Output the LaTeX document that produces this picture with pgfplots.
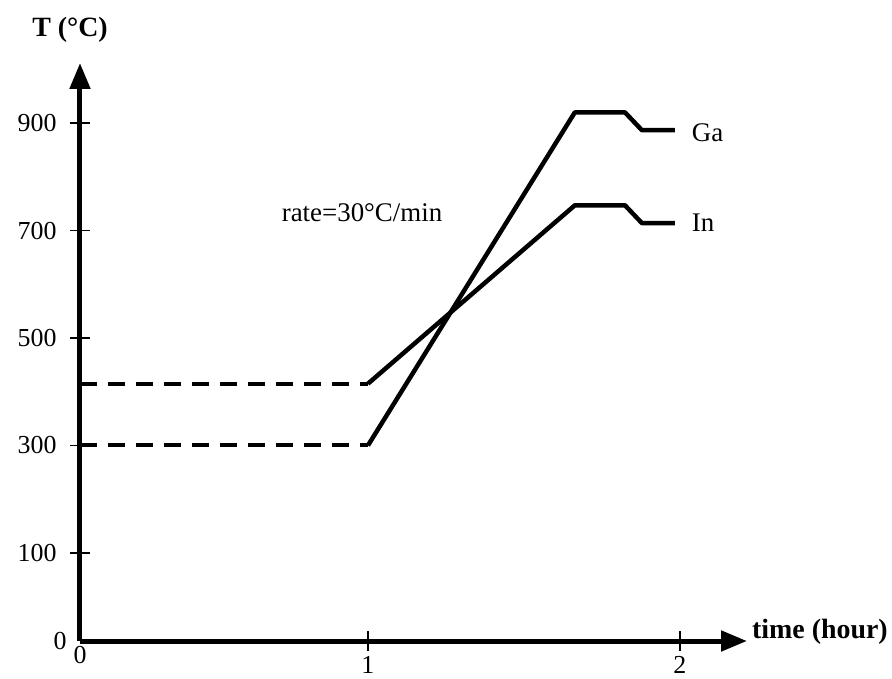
\documentclass[border=0pt]{standalone}
\usepackage{fontspec}
\setmainfont{Liberation Serif}
\usepackage{pgfplots}
\pgfplotsset{compat=1.18}
\usetikzlibrary{arrows.meta}
\begin{document}
\begin{tikzpicture}
\begin{axis}[
  scale only axis, width=667bp, height=578bp,
  xmin=0.077, xmax=2.215, ymin=-64, ymax=1012,
  axis lines=left,
  axis line style={line width=5bp, -{Triangle[length=26bp,width=20bp]}},
  xtick={1,2}, ytick={100,300,500,700,900},
  extra x ticks={0.077}, extra x tick labels={0},
  extra y ticks={-64}, extra y tick labels={0},
  extra tick style={major tick length=0pt},
  major tick length=20bp, tick align=center,
  tick style={line width=1.6bp, black},
  tick label style={font=\fontsize{26}{30}\selectfont},
  /pgf/number format/assume math mode=true,
  xticklabel style={inner sep=2bp, yshift=-3bp},
  yticklabel style={xshift=-10bp},
  clip=false,
]
\coordinate (O) at (rel axis cs:0,0);
\addplot[black, line width=4bp, dash pattern=on 17bp off 11bp] coordinates {(0.077,300) (1,300)};
\addplot[black, line width=4bp, dash pattern=on 17bp off 11bp] coordinates {(0.077,415) (1,415)};
\addplot[black, line width=4.5bp, line join=round] coordinates {(1,300) (1.663,920) (1.824,920) (1.878,887) (1.984,887)};
\addplot[black, line width=4.5bp, line join=round] coordinates {(1,415) (1.663,747) (1.824,747) (1.878,714) (1.984,714)};
\node[font=\fontsize{27}{30}\selectfont] at (axis cs:0.981,734) {rate=30°C/min};
\node[anchor=west, inner sep=0pt, font=\fontsize{27}{30}\selectfont] at (axis cs:2.038,883) {Ga};
\node[anchor=west, inner sep=0pt, font=\fontsize{27}{30}\selectfont] at (axis cs:2.038,714) {In};
\node[font=\fontsize{28}{30}\selectfont\bfseries] at (axis cs:0.045,1073) {T (°C)};
\node[anchor=west, inner sep=0pt, font=\fontsize{28}{30}\selectfont\bfseries] at (axis cs:2.231,-47) {time (hour)};
\end{axis}
\pgfresetboundingbox
\path[use as bounding box] ([shift={(-80bp,-38bp)}]O) rectangle ([shift={(812bp,641bp)}]O);
\end{tikzpicture}
\end{document}
